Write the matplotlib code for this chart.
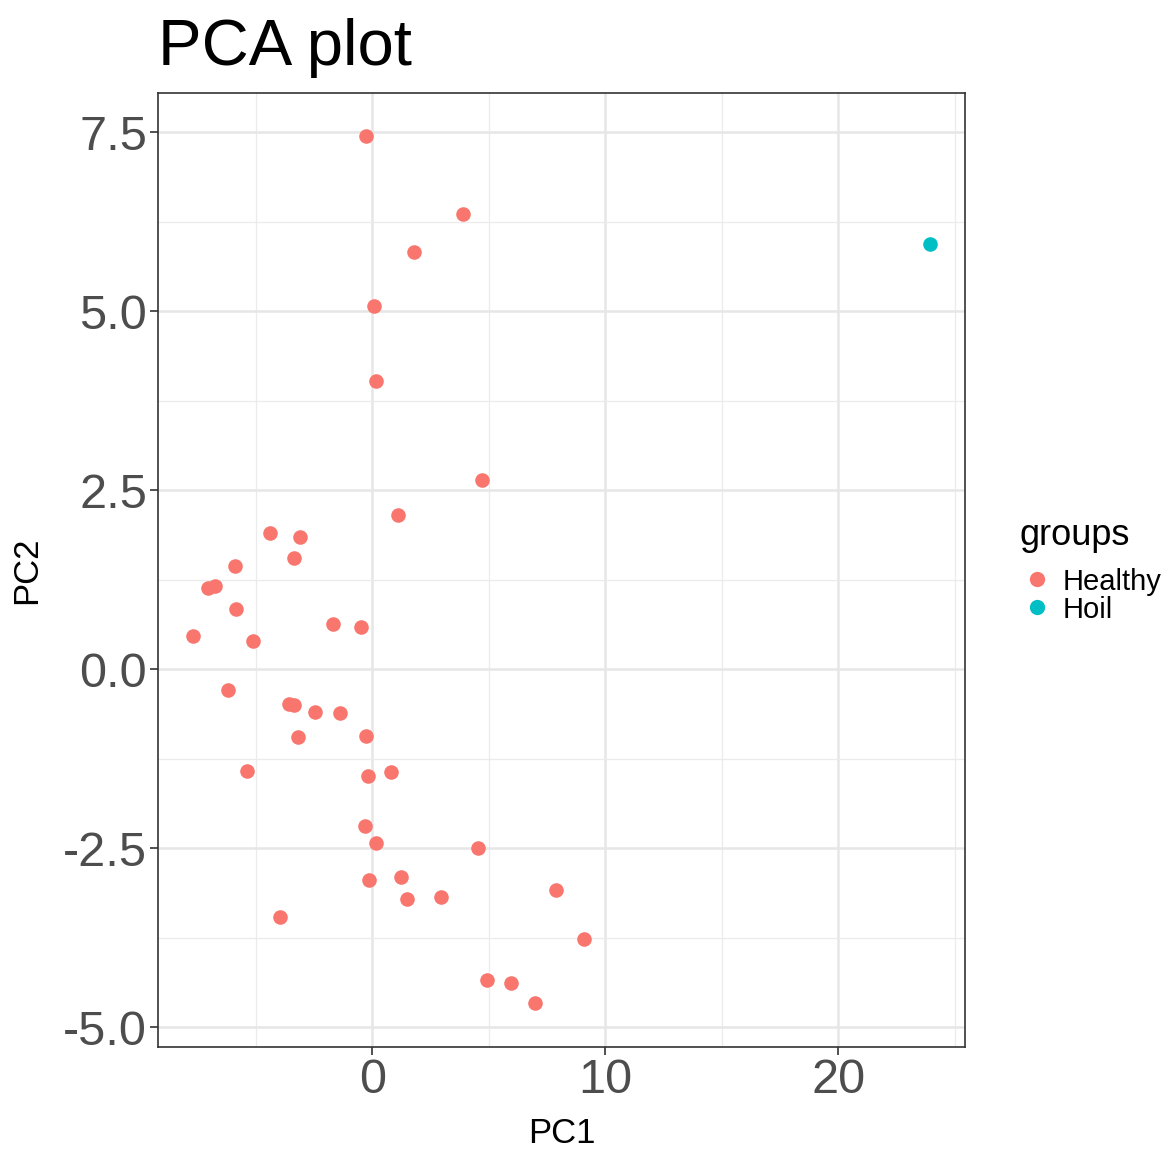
import matplotlib
matplotlib.use("Agg")
import matplotlib.pyplot as plt
from matplotlib.lines import Line2D
from matplotlib.ticker import MultipleLocator

plt.rcParams['font.family'] = ['Liberation Sans', 'DejaVu Sans']

# PCA scores per sample
healthy_pc1 = [-0.26, 3.90, 1.80, 0.09, 0.17, 4.72, 1.12, -4.38, -3.09, -3.35,
               -5.88, -7.04, -6.74, -5.84, -7.68, -5.11, -1.67, -0.47, -6.18, -3.56,
               -3.35, -2.45, -1.37, -3.18, -0.26, -5.36, -0.17, 0.82, -0.30, 0.17,
               4.55, -0.13, 1.24, 1.50, 2.96, 7.90, -3.95, 9.10, 4.94, 5.97, 7.00]
healthy_pc2 = [7.45, 6.36, 5.83, 5.08, 4.03, 2.64, 2.15, 1.90, 1.84, 1.55,
               1.44, 1.14, 1.16, 0.84, 0.47, 0.39, 0.63, 0.59, -0.29, -0.49,
               -0.50, -0.60, -0.61, -0.95, -0.93, -1.42, -1.49, -1.44, -2.19, -2.43,
               -2.50, -2.94, -2.90, -3.21, -3.19, -3.08, -3.46, -3.77, -4.34, -4.38, -4.66]
hoil_pc1 = [23.95]
hoil_pc2 = [5.94]

groups = ["Healthy", "Hoil"]
colors = ["#F8766D", "#00BFC4"]

fig = plt.figure(figsize=(11.73, 11.52), dpi=100)
ax = fig.add_axes([0.1347, 0.0911, 0.688, 0.8282])

ax.scatter(healthy_pc1, healthy_pc2, s=110, color=colors[0], linewidths=0, zorder=3)
ax.scatter(hoil_pc1, hoil_pc2, s=110, color=colors[1], linewidths=0, zorder=3)

ax.set_xlim(-9.2, 25.45)
ax.set_ylim(-5.28, 8.05)

ax.xaxis.set_minor_locator(MultipleLocator(5))
ax.yaxis.set_minor_locator(MultipleLocator(1.25))
ax.set_xticks([0, 10, 20])
ax.set_xticklabels(["0", "10", "20"])
ax.set_yticks([-5, -2.5, 0, 2.5, 5, 7.5])
ax.set_yticklabels(["-5.0", "-2.5", "0.0", "2.5", "5.0", "7.5"])

ax.grid(which='major', color='#E6E6E6', linewidth=1.8, zorder=0)
ax.grid(which='minor', color='#EBEBEB', linewidth=0.9, zorder=0)
ax.set_axisbelow(True)

for sp in ax.spines.values():
    sp.set_color('#333333')
    sp.set_linewidth(1.2)

ax.tick_params(which='major', length=6, width=1.2, color='#333333',
               labelsize=35, labelcolor='#4D4D4D', pad=2)
ax.tick_params(which='minor', length=0)

ax.set_xlabel("PC1", fontsize=25, color='black', labelpad=10)
ax.set_ylabel("PC2", fontsize=25, color='black', labelpad=14)
ax.set_title("PCA plot", fontsize=47, loc='left', x=0.0, pad=20, color='black')

# legend: title set as its own text, keys below it
fig.text(0.869, 0.535, "groups", fontsize=26, color='black',
         ha='left', va='center')
handles = [Line2D([], [], marker='o', linestyle='', markersize=11,
                  markerfacecolor=c, markeredgewidth=0) for c in colors]
leg = fig.legend(handles, groups, loc='center left',
                 bbox_to_anchor=(0.862, 0.483), frameon=False,
                 fontsize=21, handletextpad=0.35,
                 labelspacing=0.0, borderaxespad=0, handlelength=1.0)

fig.savefig("out.png", dpi=100)
